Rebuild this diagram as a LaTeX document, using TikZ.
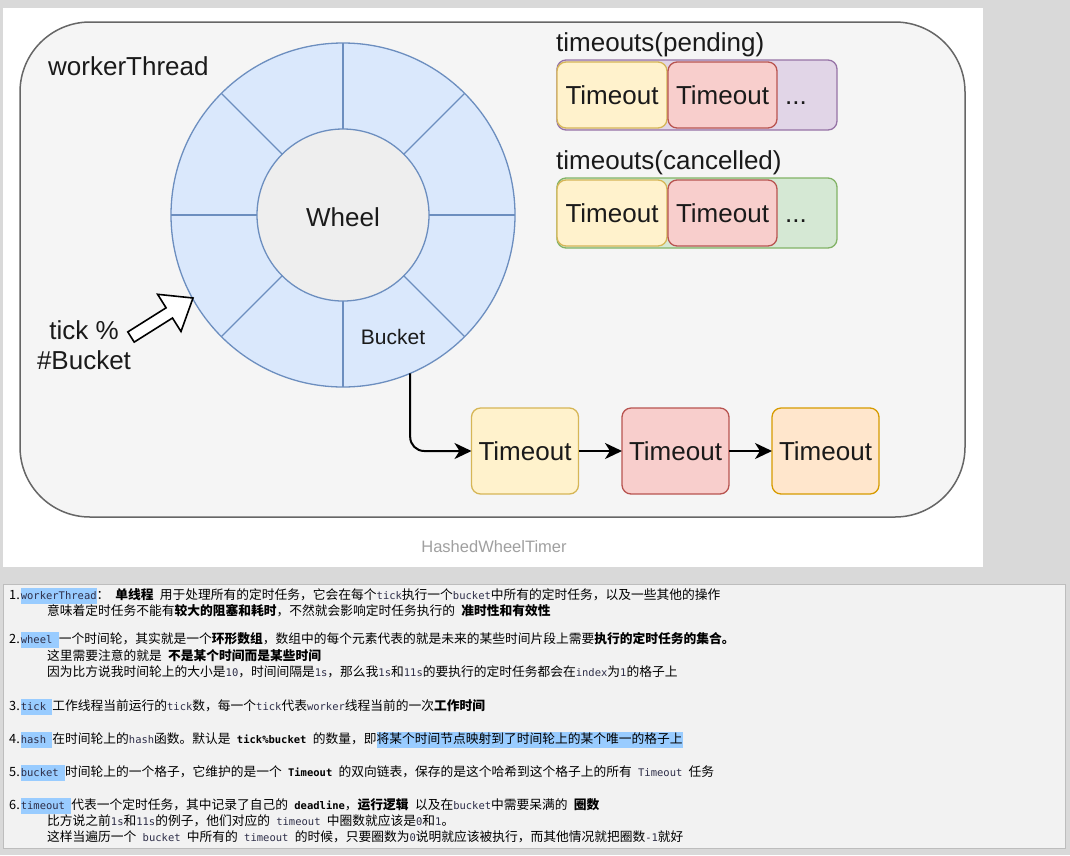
\documentclass[tikz,border=0pt]{standalone}
\usepackage{fontspec}
\setmainfont{Liberation Sans}
\setmonofont{DejaVu Sans Mono}
\newfontfamily\cjk[WordSpace=2.2]{Noto Sans CJK SC}
\usetikzlibrary{arrows.meta}
\definecolor{bgout}{HTML}{D9D9D9}
\definecolor{framefill}{HTML}{F5F5F5}
\definecolor{framedraw}{HTML}{666666}
\definecolor{wheelfill}{HTML}{DAE8FC}
\definecolor{wheeldraw}{HTML}{6C8EBF}
\definecolor{hubfill}{HTML}{EEEEEE}
\definecolor{yfill}{HTML}{FFF2CC}\definecolor{ydraw}{HTML}{D6B656}
\definecolor{rfill}{HTML}{F8CECC}\definecolor{rdraw}{HTML}{B85450}
\definecolor{ofill}{HTML}{FFE6CC}\definecolor{odraw}{HTML}{D79B00}
\definecolor{pfill}{HTML}{E1D5E7}\definecolor{pdraw}{HTML}{9673A6}
\definecolor{gfill}{HTML}{D5E8D4}\definecolor{gdraw}{HTML}{82B366}
\definecolor{notefill}{HTML}{F2F2F2}\definecolor{notedraw}{HTML}{BDBDBD}
\definecolor{hlblue}{HTML}{99CCFF}
\definecolor{codecol}{HTML}{2E2E48}
\definecolor{txtc}{HTML}{1A1A1A}
\definecolor{capgray}{HTML}{A0A0A0}
\newcommand\tx[1]{{\ttfamily\fontsize{10.5}{12}\selectfont\color{codecol}#1}}
\newcommand\txb[1]{{\ttfamily\bfseries\fontsize{10.5}{12}\selectfont #1}}
\newcommand\hlt[1]{{\setlength\fboxsep{0pt}\colorbox{hlblue}{\rule[-4pt]{0pt}{16pt}#1}}}
\tikzset{
  lbl/.style={font=\fontsize{26}{30}\selectfont, text=txtc, inner sep=0pt},
  tbox/.style={draw, line width=1.3pt, rounded corners=9pt, inner sep=0pt, outer sep=0pt,
    font=\fontsize{26}{30}\selectfont, text=txtc},
  tboxtop/.style={tbox, minimum height=66pt},
  tboxbot/.style={tbox, minimum width=107pt, minimum height=86pt},
  ybox/.style={fill=yfill, draw=ydraw},
  rbox/.style={fill=rfill, draw=rdraw},
  obox/.style={fill=ofill, draw=odraw},
  listbox/.style={draw, line width=1.3pt, rounded corners=9pt, inner sep=0pt, outer sep=0pt,
    minimum width=280pt, minimum height=70pt},
  ring/.style={circle, draw=wheeldraw, line width=1.3pt, inner sep=0pt, outer sep=0pt},
  spoke/.style={draw=wheeldraw, line width=1.3pt},
  conn/.style={draw=black, line width=2pt, -{Stealth[length=17pt,width=16pt,inset=5pt]}},
  noteline/.style={anchor=base west, inner sep=0pt, font=\cjk\fontsize{12.75}{14}\selectfont, text=black}
}
\begin{document}
\begin{tikzpicture}[x=1pt,y=-1pt]
\useasboundingbox (0,0) rectangle (1070,855);
\fill[bgout] (0,0) rectangle (1070,855);
\fill[white] (3,8) rectangle (983,567);
\draw[framedraw, fill=framefill, line width=1.5pt, rounded corners=70pt] (20,22) rectangle (965,517);

\node[lbl, anchor=west] (wt) at (48,66) {workerThread};

% wheel
\node[ring, fill=wheelfill, minimum size=344pt] (rim) at (343,215) {};
\node[ring, fill=hubfill, minimum size=172pt] (hub) at (343,215) {};
\foreach \a in {0,45,...,315} \draw[spoke] (hub.\a) -- (rim.\a);
\node[lbl] (wheel) at (343,217) {Wheel};
\node[lbl, font=\fontsize{21}{25}\selectfont] (bucket) at (393,337) {Bucket};

% tick arrow
\draw[black, fill=white, line width=1.6pt, line join=miter]
  (134.2,342.1) -- (172.5,318.0) -- (181.0,331.5) -- (193,298) -- (157.6,294.3) -- (166.1,307.8) -- (127.8,331.9) -- cycle;
\node[lbl, align=center] (tick) at (84,345) {tick \%\\\#Bucket};

% pending
\node[lbl, anchor=west] (pendl) at (556,45) {timeouts(pending)};
\node[listbox, fill=pfill, draw=pdraw] (pend) at (697,95) {};
\node[tboxtop, ybox, minimum width=110pt] (p1) at (612,95) {Timeout};
\node[tboxtop, rbox, minimum width=109pt] (p2) at (722.5,95) {Timeout};
\node[lbl, anchor=base] (pd) at (796,104) {...};

% cancelled
\node[lbl, anchor=west] (canl) at (556,163) {timeouts(cancelled)};
\node[listbox, fill=gfill, draw=gdraw] (canc) at (697,213) {};
\node[tboxtop, ybox, minimum width=110pt] (c1) at (612,213) {Timeout};
\node[tboxtop, rbox, minimum width=109pt] (c2) at (722.5,213) {Timeout};
\node[lbl, anchor=base] (cd) at (796,222) {...};

% bucket chain
\node[tboxbot, ybox] (b1) at (525,451) {Timeout};
\node[tboxbot, rbox] (b2) at (675.5,451) {Timeout};
\node[tboxbot, obox] (b3) at (825.5,451) {Timeout};
\draw[conn, rounded corners=14pt] (rim.293.3) |- (b1.west);
\draw[conn] (b1) -- (b2);
\draw[conn] (b2) -- (b3);

\node[font=\fontsize{16.5}{19}\selectfont, text=capgray, inner sep=0pt] (cap) at (494,547) {HashedWheelTimer};

% notes
\draw[notedraw, fill=notefill] (3,584) rectangle (1065,848);
\node[noteline] (n1) at (9,599.5) {1.\hspace{1pt}\hlt{\tx{workerThread}}：\hspace{6pt}\textbf{单线程} 用于处理所有的定时任务，它会在每个\tx{tick}执行一个\tx{bucket}中所有的定时任务，以及一些其他的操作};
\node[noteline] (n2) at (47,615.5) {意味着定时任务不能有\textbf{较大的阻塞和耗时}，不然就会影响定时任务执行的 \textbf{准时性和有效性}};
\node[noteline] (n3) at (9,643.5) {2.\hspace{1pt}\hlt{\tx{wheel }}一个时间轮，其实就是一个\textbf{环形数组}，数组中的每个元素代表的就是未来的某些时间片段上需要\textbf{执行的定时任务的集合。}};
\node[noteline] (n4) at (47,660.5) {这里需要注意的就是 \textbf{不是某个时间而是某些时间}};
\node[noteline] (n5) at (47,676.5) {因为比方说我时间轮上的大小是\tx{10}，时间间隔是\tx{1s}，那么我\tx{1s}和\tx{11s}的要执行的定时任务都会在\tx{index}为\tx{1}的格子上};
\node[noteline] (n6) at (9,710.5) {3.\hspace{1pt}\hlt{\tx{tick }}工作线程当前运行的\tx{tick}数，每一个\tx{tick}代表\tx{worker}线程当前的一次\textbf{工作时间}};
\node[noteline] (n7) at (9,743.5) {4.\hspace{1pt}\hlt{\tx{hash }}在时间轮上的\tx{hash}函数。默认是 \txb{tick\%bucket} 的数量，即\hlt{将某个时间节点映射到了时间轮上的某个唯一的格子上}};
\node[noteline] (n8) at (9,776.5) {5.\hspace{1pt}\hlt{\tx{bucket }}时间轮上的一个格子，它维护的是一个 \txb{Timeout} 的双向链表，保存的是这个哈希到这个格子上的所有 \tx{Timeout} 任务};
\node[noteline] (n9) at (9,809.5) {6.\hspace{1pt}\hlt{\tx{timeout }}代表一个定时任务，其中记录了自己的 \txb{deadline}，\textbf{运行逻辑} 以及在\tx{bucket}中需要呆满的 \textbf{圈数}};
\node[noteline] (n10) at (47,825.5) {比方说之前\tx{1s}和\tx{11s}的例子，他们对应的 \tx{timeout} 中圈数就应该是\tx{0}和\tx{1}。};
\node[noteline] (n11) at (47,841.5) {这样当遍历一个 \tx{bucket} 中所有的 \tx{timeout} 的时候，只要圈数为\tx{0}说明就应该被执行，而其他情况就把圈数\tx{-1}就好};
\end{tikzpicture}
\end{document}
